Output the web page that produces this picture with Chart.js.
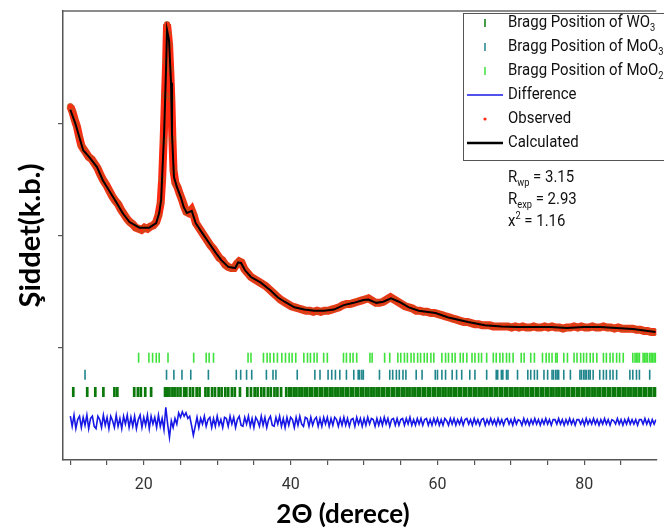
<!DOCTYPE html>
<html>
<head>
<meta charset="utf-8">
<script src="https://cdn.jsdelivr.net/npm/chart.js@4.4.1/dist/chart.umd.min.js"></script>
<style>
  html, body { margin: 0; padding: 0; background: #fff; }
  #wrap { width: 664px; height: 532px; }
</style>
</head>
<body>
<div id="wrap"><canvas id="xrd" width="664" height="532"></canvas></div>
<script>
// Calculated profile (2θ, intensity)
const calcTheta = [10.0, 10.67, 11.34, 11.75, 12.69, 13.63, 14.44, 15.38, 16.32, 17.12, 18.06, 19.41, 20.75, 21.69, 22.10, 22.37, 22.50, 22.77, 23.04, 23.17, 23.44, 23.71, 23.84, 24.11, 24.52, 25.05, 25.46, 25.86, 26.53, 27.07, 27.88, 28.82, 29.76, 30.56, 31.51, 32.45, 32.85, 33.25, 33.79, 34.60, 35.94, 37.28, 38.23, 39.17, 40.51, 41.85, 43.20, 44.54, 45.89, 47.23, 48.58, 49.92, 50.59, 51.67, 52.61, 53.68, 54.76, 56.10, 57.45, 59.73, 61.48, 64.17, 66.45, 68.74, 70.89, 73.17, 75.46, 77.61, 79.89, 82.18, 84.33, 86.61, 89.70]
const calcValue = [3.12, 3.00, 2.85, 2.76, 2.69, 2.61, 2.49, 2.39, 2.29, 2.20, 2.12, 2.07, 2.07, 2.11, 2.20, 2.32, 2.52, 2.91, 3.50, 3.83, 3.74, 3.36, 2.91, 2.52, 2.43, 2.34, 2.25, 2.20, 2.22, 2.11, 2.03, 1.94, 1.85, 1.78, 1.72, 1.71, 1.76, 1.755, 1.69, 1.63, 1.58, 1.51, 1.45, 1.41, 1.36, 1.34, 1.33, 1.33, 1.34, 1.38, 1.40, 1.425, 1.43, 1.40, 1.41, 1.44, 1.41, 1.36, 1.33, 1.31, 1.27, 1.23, 1.20, 1.19, 1.185, 1.185, 1.185, 1.176, 1.185, 1.185, 1.176, 1.167, 1.14]

// Observed points
const obsTheta = [10.0, 10.3, 10.6, 10.9, 11.2, 11.5, 11.8, 12.1, 12.5, 12.9, 13.3, 13.7, 14.1, 14.5, 14.9, 15.3, 15.7, 16.1, 16.5, 16.9, 17.3, 17.7, 18.1, 18.5, 18.9, 19.3, 19.7, 20.1, 20.5, 20.9, 21.3, 21.7, 22.0, 22.3, 22.5, 22.7, 22.9, 23.05, 23.17, 23.3, 23.45, 23.6, 23.75, 23.9, 24.05, 24.3, 24.6, 24.9, 25.2, 25.5, 25.8, 26.1, 26.5, 26.8, 27.1, 27.5, 27.9, 28.3, 28.7, 29.1, 29.5, 29.9, 30.3, 30.7, 31.1, 31.5, 31.9, 32.3, 32.7, 33.0, 33.3, 33.7, 34.1, 34.6, 35.1, 35.6, 36.1, 36.6, 37.1, 37.6, 38.1, 38.6, 39.1, 39.6, 40.1, 40.6, 41.1, 41.6, 42.1, 42.6, 43.1, 43.6, 44.1, 44.6, 45.1, 45.6, 46.1, 46.6, 47.1, 47.6, 48.1, 48.6, 49.1, 49.6, 50.1, 50.6, 51.1, 51.6, 52.1, 52.6, 53.1, 53.6, 54.1, 54.6, 55.1, 55.6, 56.1, 56.6, 57.1, 57.6, 58.1, 58.6, 59.1, 59.6, 60.1, 60.6, 61.1, 61.6, 62.1, 62.6, 63.1, 63.6, 64.1, 64.6, 65.1, 65.6, 66.1, 66.6, 67.1, 67.6, 68.1, 68.6, 69.1, 69.6, 70.1, 70.6, 71.1, 71.6, 72.1, 72.6, 73.1, 73.6, 74.1, 74.6, 75.1, 75.6, 76.1, 76.6, 77.1, 77.6, 78.1, 78.6, 79.1, 79.6, 80.1, 80.6, 81.1, 81.6, 82.1, 82.6, 83.1, 83.6, 84.1, 84.6, 85.1, 85.6, 86.1, 86.6, 87.1, 87.6, 88.1, 88.6, 89.1, 89.7]
const obsValue = [3.15, 3.10, 3.03, 2.97, 2.88, 2.80, 2.77, 2.74, 2.70, 2.68, 2.64, 2.60, 2.54, 2.49, 2.45, 2.40, 2.35, 2.31, 2.28, 2.23, 2.19, 2.15, 2.12, 2.10, 2.07, 2.06, 2.05, 2.07, 2.06, 2.08, 2.09, 2.12, 2.18, 2.29, 2.50, 2.84, 3.25, 3.55, 3.88, 3.80, 3.70, 3.48, 3.22, 2.86, 2.58, 2.47, 2.43, 2.37, 2.32, 2.26, 2.21, 2.20, 2.23, 2.18, 2.11, 2.07, 2.03, 1.99, 1.95, 1.91, 1.88, 1.84, 1.80, 1.78, 1.74, 1.72, 1.71, 1.71, 1.75, 1.77, 1.76, 1.70, 1.67, 1.63, 1.61, 1.59, 1.57, 1.55, 1.52, 1.49, 1.46, 1.43, 1.41, 1.39, 1.37, 1.36, 1.35, 1.34, 1.33, 1.33, 1.32, 1.33, 1.32, 1.33, 1.33, 1.34, 1.35, 1.36, 1.38, 1.39, 1.39, 1.40, 1.41, 1.42, 1.43, 1.44, 1.42, 1.40, 1.40, 1.41, 1.43, 1.45, 1.43, 1.41, 1.39, 1.37, 1.36, 1.35, 1.33, 1.33, 1.32, 1.32, 1.31, 1.31, 1.30, 1.29, 1.28, 1.27, 1.26, 1.25, 1.24, 1.23, 1.23, 1.22, 1.21, 1.21, 1.20, 1.20, 1.20, 1.19, 1.19, 1.19, 1.19, 1.19, 1.18, 1.19, 1.18, 1.19, 1.18, 1.18, 1.19, 1.18, 1.18, 1.19, 1.18, 1.19, 1.18, 1.18, 1.17, 1.18, 1.18, 1.19, 1.18, 1.19, 1.18, 1.18, 1.19, 1.18, 1.18, 1.19, 1.18, 1.18, 1.17, 1.18, 1.17, 1.17, 1.17, 1.17, 1.16, 1.16, 1.15, 1.15, 1.14, 1.14]

// Difference (obs - calc), sampled from 10° every 0.25°, drawn shifted down
const DIFF_START = 10.0
const DIFF_STEP = 0.25
const DIFF_OFFSET = 0.34
const diffValue = [
  0.05, -0.04, 0.06, -0.06, 0.02, 0.05, -0.05, 0.04, -0.03, 0.06,
  -0.06, 0.03, 0.05, -0.04, -0.06, 0.05, 0.02, -0.05, 0.06, -0.03,
  0.04, -0.06, 0.05, 0.01, -0.05, 0.06, -0.04, 0.03, -0.06, 0.05,
  -0.02, 0.06, -0.05, 0.04, -0.04, 0.05, -0.06, 0.02, 0.06, -0.05,
  0.04, -0.03, 0.06, -0.06, 0.05, -0.02, 0.04, -0.05, 0.06, -0.04,
  0.03,
  -0.07, 0.13, -0.02, -0.14, 0.01, -0.05, 0.03, -0.02, 0.08, 0.04, 0.09, 0.05, 0.08, 0.03, 0.05, -0.03, -0.12, -0.04,
  0.04, -0.05, 0.03, -0.02, 0.05, -0.04, 0.02, 0.04, -0.05, 0.03,
  -0.04, 0.05, -0.03, 0.02, -0.05, 0.04, 0.03, -0.04, 0.05, -0.02,
  0.04, -0.05, 0.02, 0.05, -0.03, -0.04, 0.04, -0.02, 0.05, -0.04,
  0.03, -0.05, 0.04, 0.01, -0.04, 0.05, -0.03, 0.04, -0.05, 0.02,
  0.05, -0.03, -0.04, 0.04, -0.02, 0.05, -0.04, 0.03, -0.05, 0.04,
  -0.03, 0.04, 0.02, -0.05, 0.04, -0.03, 0.05, -0.02, -0.04, 0.04,
  0.03, -0.04, 0.04, -0.03, 0.02, 0.04, -0.04, 0.03, -0.04, 0.04,
  -0.02, 0.04, -0.04, 0.03, -0.03, 0.04, 0.02, -0.04, 0.03, -0.03,
  0.04, -0.03, 0.03, -0.04, 0.02, 0.03, -0.04, 0.04, -0.02, 0.03,
  -0.04, 0.03, -0.03, 0.04, -0.02, 0.03, 0.02, -0.04, 0.03, -0.03,
  0.03, -0.03, 0.04, -0.02, 0.03, -0.04, 0.02, 0.03, -0.03, 0.03,
  -0.03, 0.02, 0.03, -0.03, 0.03, -0.02, 0.04, -0.03, 0.02, -0.03,
  0.03, -0.02, 0.03, -0.03, 0.02, 0.03, -0.03, 0.02, -0.03, 0.03,
  -0.02, 0.03, -0.03, 0.02, -0.03, 0.03, 0.01, -0.03, 0.03, -0.02,
  0.03, -0.03, 0.02, -0.02, 0.03, -0.03, 0.02, 0.03, -0.02, 0.02,
  -0.03, 0.03, -0.02, 0.02, -0.03, 0.02, 0.03, -0.03, 0.02, -0.02,
  0.03, -0.02, 0.02, -0.03, 0.03, -0.02, 0.02, -0.03, 0.02, 0.03,
  -0.02, 0.02, -0.03, 0.03, -0.02, 0.02, 0.01, -0.03, 0.03, -0.02,
  0.02, -0.03, 0.02, -0.02, 0.03, -0.02, 0.02, -0.03, 0.02, -0.02,
  0.03, -0.02, 0.02, -0.03, 0.02, 0.02, -0.02, 0.03, -0.02, 0.02,
  -0.03, 0.02, -0.02, 0.03, -0.02, 0.02, -0.03, 0.02, 0.02, -0.02,
  0.02, -0.03, 0.03, -0.02, 0.02, -0.02, 0.03, -0.02, 0.02, -0.03,
  0.02, -0.02, 0.03, -0.02, 0.02, -0.03, 0.02, 0.01, -0.02, 0.03,
  -0.02, 0.02, -0.03, 0.02, -0.02, 0.03, -0.02, 0.02, -0.02, 0.02,
  -0.03, 0.02, 0.02, -0.02, 0.03, -0.02, 0.02, -0.03, 0.02, -0.02,
  0.02
]

// Bragg reflection positions (2θ)
const braggMoO2 = [19.3, 20.7, 21.2, 21.7, 22.1, 23.3, 26.8, 28.5, 28.9, 29.5, 34.2, 34.6, 36.3, 36.8, 37.2, 37.7, 38.2, 38.8, 39.3, 39.8, 40.2, 40.7, 41.8, 42.3, 42.7, 43.2, 43.6, 44.5, 45.0, 47.2, 47.6, 48.1, 48.5, 49.0, 50.8, 51.1, 52.8, 53.5, 54.6, 55.0, 55.5, 55.9, 56.4, 56.8, 57.3, 57.7, 58.2, 58.6, 59.1, 59.5, 60.6, 61.1, 61.5, 62.0, 62.4, 63.1, 63.5, 64.0, 64.7, 65.1, 65.6, 66.0, 66.7, 67.6, 68.0, 68.5, 68.9, 69.4, 69.8, 70.3, 71.4, 71.8, 72.7, 73.2, 74.3, 74.8, 75.2, 75.6, 76.1, 76.3, 77.2, 77.7, 78.6, 79.0, 79.5, 79.9, 80.3, 80.8, 81.2, 81.7, 82.6, 83.0, 83.5, 83.9, 84.4, 84.8, 85.3, 86.6, 86.9, 87.1, 87.3, 87.5, 88.0, 88.2, 88.4, 88.6, 88.9, 89.1, 89.3, 89.5, 89.7]
const braggMoO3 = [12.0, 23.1, 24.1, 25.2, 26.4, 28.8, 32.6, 33.2, 34.0, 34.7, 36.7, 37.6, 38.0, 40.9, 43.3, 44.0, 45.1, 45.6, 46.1, 46.7, 47.6, 48.6, 49.2, 49.4, 49.7, 49.9, 52.1, 53.5, 53.9, 54.4, 54.8, 55.3, 55.7, 57.1, 57.9, 59.7, 60.0, 60.6, 61.1, 62.0, 62.6, 63.3, 64.4, 65.1, 66.7, 68.0, 68.2, 68.7, 68.9, 69.4, 69.6, 70.9, 72.3, 72.7, 73.2, 73.6, 74.5, 75.0, 75.6, 75.8, 76.1, 76.3, 76.5, 77.2, 78.1, 79.4, 79.6, 79.9, 80.1, 80.3, 80.6, 80.8, 81.2, 82.1, 82.6, 83.0, 83.5, 83.9, 84.4, 86.2, 86.6, 87.1, 87.5, 88.9]
const braggWO3 = [10.4, 12.3, 13.4, 14.5, 16.0, 16.4, 18.7, 19.2, 19.6, 20.2, 21.0, 22.9, 23.2, 23.5, 23.9, 24.2, 24.6, 25.0, 25.5, 25.8, 26.3, 26.7, 27.2, 27.6, 28.4, 28.8, 29.3, 29.7, 30.2, 30.6, 31.1, 31.5, 32.0, 32.4, 33.1, 34.1, 34.6, 35.1, 35.5, 36.0, 36.4, 36.9, 37.3, 37.8, 38.2, 38.7,
  39.4, 39.8, 40.1, 40.5, 40.8, 41.2, 41.5, 41.9, 42.2, 42.6, 42.9, 43.3, 43.6, 44.0, 44.3, 44.7, 45.0, 45.4, 45.7, 46.1, 46.4, 46.8, 47.1, 47.5, 47.8, 48.2, 48.5, 48.9, 49.2, 49.6, 49.9, 50.3, 50.6, 51.0, 51.3, 51.7, 52.0, 52.4, 52.7, 53.1, 53.4, 53.8, 54.1, 54.5, 54.8, 55.2, 55.5, 55.9, 56.2, 56.6, 56.9, 57.3, 57.6, 58.0, 58.3, 58.7, 59.0, 59.4, 59.7, 60.1, 60.4, 60.8, 61.1, 61.5, 61.8, 62.2, 62.5, 62.9, 63.2, 63.6, 63.9, 64.3, 64.6, 65.0, 65.3, 65.7, 66.0, 66.4, 66.7, 67.1, 67.4, 67.8, 68.1, 68.5, 68.8, 69.2, 69.5, 69.9, 70.2, 70.6, 70.9, 71.3, 71.6, 72.0, 72.3, 72.7, 73.0, 73.4, 73.7, 74.1, 74.4, 74.8, 75.1, 75.5, 75.8, 76.2, 76.5, 76.9, 77.2, 77.6, 77.9, 78.3, 78.6, 79.0, 79.3, 79.7, 80.0, 80.4, 80.7, 81.1, 81.4, 81.8, 82.1, 82.5, 82.8, 83.2, 83.5, 83.9, 84.2, 84.6, 84.9, 85.3, 85.6, 86.0, 86.3, 86.7, 87.0, 87.4, 87.7, 88.1, 88.4, 88.8, 89.1, 89.5, 89.8]

// Axis ticks
const xTicks = [10, 15, 20, 25, 30, 35, 40, 45, 50, 55, 60, 65, 70, 75, 80, 85]
const xLabelled = [20, 40, 60, 80]
const yTicks = [1, 2, 3]

// Fit statistics
const stats = [
  [['R', ''], ['wp', 'sub'], [' = 3.15', '']],
  [['R', ''], ['exp', 'sub'], [' = 2.93', '']],
  [['x', ''], ['2', 'sup'], [' = 1.16', '']]
]

// heights of the tick rows (y units)
const ROW_MOO2 = 0.91
const ROW_MOO3 = 0.76
const ROW_WO3 = 0.605

const C_MOO2 = '#3fe23a'
const C_MOO3 = '#1f858c'
const C_WO3 = '#0b780b'
const C_DIFF = '#1818e6'
const C_OBS = '#ff2a12'

const TXT = 'Roboto, sans-serif'
const SQUEEZE = 0.88

const pairs = (xs, ys) => xs.map((x, i) => ({x: x, y: ys[i]}))
const row = (xs, y) => xs.map(x => ({x: x, y: y}))

const diffData = diffValue.map((d, i) => ({x: DIFF_START + i * DIFF_STEP, y: d + DIFF_OFFSET}))

function tickSet(label, data, color, width) {
  return {
    label: label,
    data: data,
    showLine: false,
    pointStyle: 'line',
    rotation: 90,
    pointRadius: 5,
    borderColor: color,
    borderWidth: width
  }
}

// text with sub/superscripts, squeezed a bit to look like a condensed face
function drawRich(ctx, parts, x, y, size) {
  ctx.save()
  ctx.translate(x, y)
  ctx.scale(SQUEEZE, 1)
  let cx = 0
  parts.forEach(([t, kind]) => {
    const s = kind ? size * 0.62 : size
    ctx.font = s + 'px ' + TXT
    const dy = kind === 'sub' ? size * 0.3 : kind === 'sup' ? -size * 0.35 : 0
    ctx.fillText(t, cx, dy)
    cx += ctx.measureText(t).width
  })
  ctx.restore()
}

const legendEntries = [
  {kind: 'tick', color: C_WO3, text: [['Bragg Position of WO', ''], ['3', 'sub']]},
  {kind: 'tick', color: C_MOO3, text: [['Bragg Position of MoO', ''], ['3', 'sub']]},
  {kind: 'tick', color: C_MOO2, text: [['Bragg Position of MoO', ''], ['2', 'sub']]},
  {kind: 'line', color: C_DIFF, width: 1.5, text: [['Difference', '']]},
  {kind: 'dot', color: C_OBS, text: [['Observed', '']]},
  {kind: 'line', color: '#000', width: 2.5, text: [['Calculated', '']]}
]

const frame = {
  id: 'frame',
  afterDraw(chart) {
    const ctx = chart.ctx
    const a = chart.chartArea
    ctx.save()
    // top border
    ctx.strokeStyle = '#666'
    ctx.lineWidth = 1.5
    ctx.beginPath()
    ctx.moveTo(a.left, a.top)
    ctx.lineTo(a.right, a.top)
    ctx.stroke()

    // x axis title, centred as in the source figure
    ctx.fillStyle = '#000'
    ctx.font = 'bold 26px Lato'
    ctx.textAlign = 'center'
    ctx.textBaseline = 'middle'
    ctx.fillText('2Θ (derece)', 343, 515)

    // legend box
    const bx = 463, by = 13, bw = 210, bh = 147
    ctx.fillStyle = '#fff'
    ctx.fillRect(bx, by, bw, bh)
    ctx.strokeStyle = '#555'
    ctx.lineWidth = 1
    ctx.strokeRect(bx + 0.5, by + 0.5, bw, bh)

    ctx.textAlign = 'left'
    legendEntries.forEach((e, i) => {
      const y = 23 + i * 24
      ctx.strokeStyle = e.color
      ctx.fillStyle = e.color
      if (e.kind === 'tick') {
        ctx.lineWidth = 1.5
        ctx.beginPath()
        ctx.moveTo(485, y - 4)
        ctx.lineTo(485, y + 4)
        ctx.stroke()
      } else if (e.kind === 'line') {
        ctx.lineWidth = e.width
        ctx.beginPath()
        ctx.moveTo(467, y)
        ctx.lineTo(503, y)
        ctx.stroke()
      } else {
        ctx.beginPath()
        ctx.arc(485, y, 1.6, 0, Math.PI * 2)
        ctx.fill()
      }
      ctx.fillStyle = '#111'
      drawRich(ctx, e.text, 508, y, 17)
    })

    ctx.fillStyle = '#111'
    stats.forEach((s, i) => drawRich(ctx, s, 508, 178 + i * 22, 17))
    ctx.restore()
  }
}

new Chart(document.getElementById('xrd'), {
  type: 'scatter',
  data: {
    datasets: [
      {
        label: 'Calculated',
        data: pairs(calcTheta, calcValue),
        showLine: true,
        borderColor: '#000',
        borderWidth: 2,
        pointRadius: 0
      },
      {
        label: 'Observed',
        data: pairs(obsTheta, obsValue),
        showLine: true,
        borderColor: C_OBS,
        borderWidth: 8,
        pointRadius: 3,
        pointBackgroundColor: C_OBS,
        pointBorderColor: '#a8601e',
        pointBorderWidth: 0.8
      },
      {
        label: 'Difference',
        data: diffData,
        showLine: true,
        borderColor: C_DIFF,
        borderWidth: 1.6,
        pointRadius: 0
      },
      tickSet('Bragg Position of MoO2', row(braggMoO2, ROW_MOO2), C_MOO2, 1.6),
      tickSet('Bragg Position of MoO3', row(braggMoO3, ROW_MOO3), C_MOO3, 1.6),
      tickSet('Bragg Position of WO3', row(braggWO3, ROW_WO3), C_WO3, 2.7)
    ]
  },
  options: {
    responsive: false,
    animation: false,
    events: [],
    layout: {padding: {top: 11, right: 0, bottom: 0, left: 0}},
    plugins: {
      legend: {display: false},
      tooltip: {enabled: false}
    },
    scales: {
      x: {
        type: 'linear',
        min: 9.0,
        max: 89.8,
        afterBuildTicks: scale => { scale.ticks = xTicks.map(v => ({value: v})) },
        afterFit: scale => { scale.height = 72 },
        ticks: {
          autoSkip: false,
          maxRotation: 0,
          padding: 10,
          color: '#333',
          font: {family: TXT, size: 16},
          callback: v => xLabelled.includes(v) ? String(v) : ''
        },
        grid: {drawOnChartArea: false, tickLength: 5, color: '#555', lineWidth: 1.2},
        border: {display: true, color: '#555', width: 1.5},
        title: {display: false}
      },
      y: {
        type: 'linear',
        min: 0,
        max: 4,
        afterBuildTicks: scale => { scale.ticks = yTicks.map(v => ({value: v})) },
        afterFit: scale => { scale.width = 63 },
        ticks: {display: false},
        grid: {drawOnChartArea: false, tickLength: 5, color: '#555', lineWidth: 1.2},
        border: {display: true, color: '#555', width: 1.5},
        title: {
          display: true,
          text: 'Şiddet(k.b.)',
          color: '#000',
          font: {family: 'Lato', size: 29, weight: 'bold'},
          padding: {top: 13, bottom: 0}
        }
      }
    }
  },
  plugins: [frame]
})
</script>
</body>
</html>
